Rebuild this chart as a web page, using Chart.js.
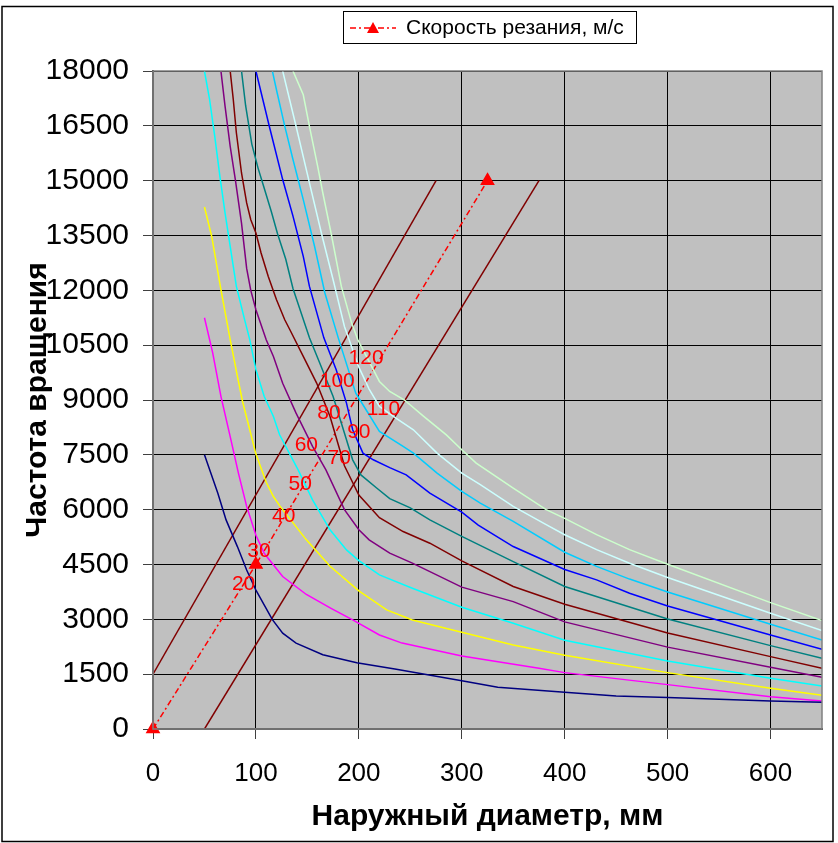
<!DOCTYPE html>
<html>
<head>
<meta charset="utf-8">
<script src="https://cdn.jsdelivr.net/npm/chart.js@4.4.0/dist/chart.umd.min.js"></script>
<style>
  html, body { margin: 0; padding: 0; background: #fff; }
  #wrap { width: 838px; height: 843px; }
</style>
</head>
<body>
<div id="wrap"><canvas id="chart" width="838" height="843"></canvas></div>
<script>
// curves: diameter (mm) -> rotation speed, one pair per cutting speed
const d20 = [50, 63, 71, 82, 91, 100, 116, 126, 139, 165, 198, 235, 300, 335, 400, 450, 500, 600, 650];
const n20 = [7500, 6450, 5720, 4990, 4350, 3800, 2990, 2620, 2350, 2030, 1815, 1640, 1320, 1140, 1005, 905, 860, 766, 730];

const d30 = [50, 58, 66, 75, 83, 91, 100, 108, 113, 126, 149, 173, 194, 220, 242, 300, 375, 400, 500, 600, 650];
const n30 = [11250, 10290, 9100, 8000, 7000, 6090, 5300, 4810, 4630, 4170, 3680, 3300, 2984, 2573, 2350, 2000, 1661, 1542, 1214, 885, 767];

const d40 = [50, 57, 66, 75, 82, 87, 94, 100, 110, 117, 123, 149, 172, 200, 227, 252, 300, 350, 400, 500, 600, 650];
const n40 = [14280, 13480, 12020, 10650, 9650, 8960, 8185, 7520, 6750, 6360, 6110, 5174, 4450, 3780, 3258, 2984, 2647, 2300, 2020, 1542, 1113, 921];

const d50 = [50, 55, 60, 65, 70, 75, 81, 89, 94, 100, 108, 117, 123, 141, 155, 172, 188, 200, 220, 252, 300, 350, 400, 500, 600, 650];
const n50 = [18000, 17220, 16210, 15120, 14120, 13200, 12110, 11200, 10650, 9830, 9100, 8550, 8050, 7090, 6270, 5450, 4900, 4607, 4216, 3851, 3330, 2893, 2430, 1861, 1387, 1177];

const d60 = [66, 70, 75, 80, 86, 91, 95, 100, 110, 117, 126, 139, 155, 168, 186, 200, 210, 230, 252, 300, 350, 400, 500, 600, 650];
const n60 = [18000, 17040, 15940, 15030, 13840, 12600, 12000, 11470, 10650, 10190, 9460, 8640, 7730, 7090, 6000, 5450, 5174, 4810, 4536, 3880, 3485, 2930, 2240, 1688, 1414];

const d70 = [75, 78, 81, 86, 91, 95, 100, 105, 112, 120, 128, 133, 146, 159, 172, 186, 200, 213, 220, 243, 269, 300, 350, 400, 500, 600, 650];
const n70 = [18000, 17220, 16310, 15210, 14390, 13930, 13570, 13020, 12380, 11744, 11196, 10922, 10192, 9463, 8550, 7200, 6400, 6000, 5780, 5402, 5083, 4600, 3897, 3413, 2628, 1980, 1661];

const d80 = [86, 90, 96, 102, 108, 115, 121, 129, 136, 152, 162, 175, 185, 194, 202, 217, 230, 250, 269, 300, 350, 400, 500, 600, 650];
const n80 = [18000, 17050, 16000, 15350, 14800, 14150, 13550, 12850, 12050, 10700, 10010, 9097, 8185, 7363, 6950, 6600, 6300, 6050, 5720, 5270, 4580, 3900, 3011, 2281, 1935];

const d90 = [100, 113, 126, 136, 146, 152, 166, 178, 188, 194, 204, 214, 230, 246, 269, 300, 316, 350, 400, 431, 463, 500, 600, 650];
const n90 = [18000, 16490, 15030, 14030, 12930, 12108, 10700, 9828, 8915, 8185, 7546, 7365, 7150, 6950, 6450, 5930, 5580, 4992, 4365, 4080, 3715, 3367, 2573, 2181];

const d100 = [116, 120, 128, 136, 146, 157, 167, 180, 197, 207, 220, 243, 253, 276, 300, 318, 350, 400, 431, 463, 500, 600, 650];
const n100 = [18000, 17480, 16490, 15580, 14480, 13200, 11927, 10700, 9188, 8733, 8139, 7729, 7547, 7000, 6500, 6181, 5681, 4835, 4448, 4101, 3750, 2865, 2436];

const d110 = [126, 139, 152, 164, 175, 186, 200, 210, 220, 236, 253, 276, 300, 318, 350, 382, 400, 431, 463, 500, 600, 650];
const n110 = [18000, 16490, 14940, 13520, 12291, 11013, 9900, 9300, 8824, 8505, 8186, 7547, 7000, 6683, 6090, 5590, 5314, 4906, 4535, 4143, 3166, 2692];

const d120 = [136, 146, 152, 160, 165, 173, 183, 193, 199, 210, 220, 230, 244, 263, 285, 300, 314, 350, 382, 400, 431, 463, 500, 600, 650];
const n120 = [18000, 17350, 16487, 15393, 14663, 13569, 12108, 11104, 10648, 10050, 9508, 9234, 9006, 8552, 8047, 7638, 7273, 6592, 6001, 5760, 5317, 4906, 4508, 3458, 2966];

// straight guide lines
const guideAx = [0, 275];
const guideAy = [1500, 15000];
const guideBx = [50, 375];
const guideBy = [0, 15000];

// cutting speed line (legend series)
const speedX = [0, 100, 325];
const speedY = [0, 4500, 15000];

// red speed labels
const labelText = ['20', '30', '40', '50', '60', '70', '80', '90', '100', '110', '120'];
const labelX = [88, 103, 127, 143, 149, 181, 171, 200, 179, 224, 207];
const labelY = [3969, 4854, 5812, 6707, 7774, 7410, 8642, 8122, 9508, 8760, 10148];

const legendLabel = 'Скорость резания, м/с';
const xTitle = 'Наружный диаметр, мм';
const yTitle = 'Частота вращения';

const curveX = [d20, d30, d40, d50, d60, d70, d80, d90, d100, d110, d120];
const curveY = [n20, n30, n40, n50, n60, n70, n80, n90, n100, n110, n120];
const curveColors = ['#000080', '#FF00FF', '#FFFF00', '#00FFFF', '#800080', '#800000',
                     '#008080', '#0000FF', '#00CCFF', '#CCFFFF', '#CCFFCC'];

function pts(xs, ys){ return xs.map((x, i) => ({ x: x, y: ys[i] })); }

const FONT = '"Liberation Sans", Arial, sans-serif';

const datasets = curveX.map((xs, i) => ({
  label: labelText[i],
  data: pts(xs, curveY[i]),
  borderColor: curveColors[i],
  borderWidth: 1.5,
  pointRadius: 0,
  showLine: true,
  tension: 0
}));
datasets.push({ label: 'guideA', data: pts(guideAx, guideAy), borderColor: '#800000', borderWidth: 1.5, pointRadius: 0, showLine: true });
datasets.push({ label: 'guideB', data: pts(guideBx, guideBy), borderColor: '#800000', borderWidth: 1.5, pointRadius: 0, showLine: true });
datasets.push({
  label: legendLabel,
  data: pts(speedX, speedY),
  borderColor: '#FF0000',
  borderWidth: 1.5,
  borderDash: [6, 3, 2, 3],
  showLine: true,
  pointStyle: 'triangle',
  pointRadius: 7,
  pointBackgroundColor: '#FF0000',
  pointBorderColor: '#FF0000',
  clip: false
});

// grey plot area + frames
const plotBg = {
  id: 'plotBg',
  beforeDraw(chart){
    const { ctx, chartArea: a } = chart;
    ctx.save();
    ctx.fillStyle = '#C0C0C0';
    ctx.fillRect(a.left, a.top, a.right - a.left, a.bottom - a.top);
    ctx.restore();
  },
  afterDraw(chart){
    const { ctx, chartArea: a } = chart;
    ctx.save();
    ctx.strokeStyle = '#808080';
    ctx.lineWidth = 1.5;
    ctx.strokeRect(a.left, a.top, a.right - a.left, a.bottom - a.top);
    ctx.strokeStyle = '#000';
    ctx.lineWidth = 1.5;
    ctx.strokeRect(2, 6.5, 831, 835);
    ctx.restore();
  }
};

// speed numbers
const speedLabels = {
  id: 'speedLabels',
  afterDatasetsDraw(chart){
    const { ctx, scales } = chart;
    ctx.save();
    ctx.fillStyle = '#FF0000';
    ctx.font = '21px ' + FONT;
    ctx.textAlign = 'center';
    ctx.textBaseline = 'middle';
    labelText.forEach((t, i) => {
      ctx.fillText(t, scales.x.getPixelForValue(labelX[i]), scales.y.getPixelForValue(labelY[i]));
    });
    ctx.restore();
  }
};

// excel-like legend box
const legendBox = {
  id: 'legendBox',
  afterDraw(chart){
    const { ctx } = chart;
    const left = 343, top = 11, w = 293, h = 32;
    ctx.save();
    ctx.fillStyle = '#fff';
    ctx.fillRect(left, top, w, h);
    ctx.strokeStyle = '#000';
    ctx.lineWidth = 1;
    ctx.strokeRect(left + 0.5, top + 0.5, w, h);
    const cy = top + h / 2 + 1;
    ctx.strokeStyle = '#FF0000';
    ctx.lineWidth = 1.5;
    ctx.setLineDash([6, 3, 2, 3]);
    ctx.beginPath();
    ctx.moveTo(350, cy);
    ctx.lineTo(396, cy);
    ctx.stroke();
    ctx.setLineDash([]);
    ctx.fillStyle = '#FF0000';
    ctx.beginPath();
    ctx.moveTo(373, cy - 6);
    ctx.lineTo(379, cy + 5);
    ctx.lineTo(367, cy + 5);
    ctx.closePath();
    ctx.fill();
    ctx.fillStyle = '#000';
    ctx.font = '21px ' + FONT;
    ctx.textAlign = 'left';
    ctx.textBaseline = 'middle';
    ctx.fillText(legendLabel, 406, cy);
    ctx.restore();
  }
};

new Chart(document.getElementById('chart'), {
  type: 'scatter',
  data: { datasets: datasets },
  plugins: [plotBg, speedLabels, legendBox],
  options: {
    responsive: false,
    animation: false,
    devicePixelRatio: 1,
    layout: { padding: { top: 71, right: 16, bottom: 0, left: 0 } },
    plugins: {
      legend: { display: false },
      tooltip: { enabled: false }
    },
    scales: {
      x: {
        type: 'linear',
        min: 0,
        max: 650,
        afterFit(scale){ scale.height = 114; },
        ticks: { stepSize: 100, includeBounds: false, color: '#000', padding: 19,
                 font: { family: FONT, size: 26 },
                 callback: v => String(v) },
        grid: { color: '#000', lineWidth: 1, tickLength: 10, tickColor: '#404040' },
        border: { color: '#404040', width: 2 },
        title: { display: true, text: xTitle, color: '#000', padding: { top: 0, bottom: 8 },
                 font: { family: FONT, size: 30, weight: 'bold' } }
      },
      y: {
        type: 'linear',
        min: 0,
        max: 18000,
        afterFit(scale){ scale.width = 153; },
        ticks: { stepSize: 1500, color: '#000', padding: 14,
                 font: { family: FONT, size: 30 },
                 callback: v => String(v) },
        grid: { color: '#000', lineWidth: 1, tickLength: 10, tickColor: '#404040' },
        border: { color: '#404040', width: 2 },
        title: { display: true, text: yTitle, color: '#000', padding: { top: 20, bottom: 0 },
                 font: { family: FONT, size: 30, weight: 'bold' } }
      }
    }
  }
});
</script>
</body>
</html>
